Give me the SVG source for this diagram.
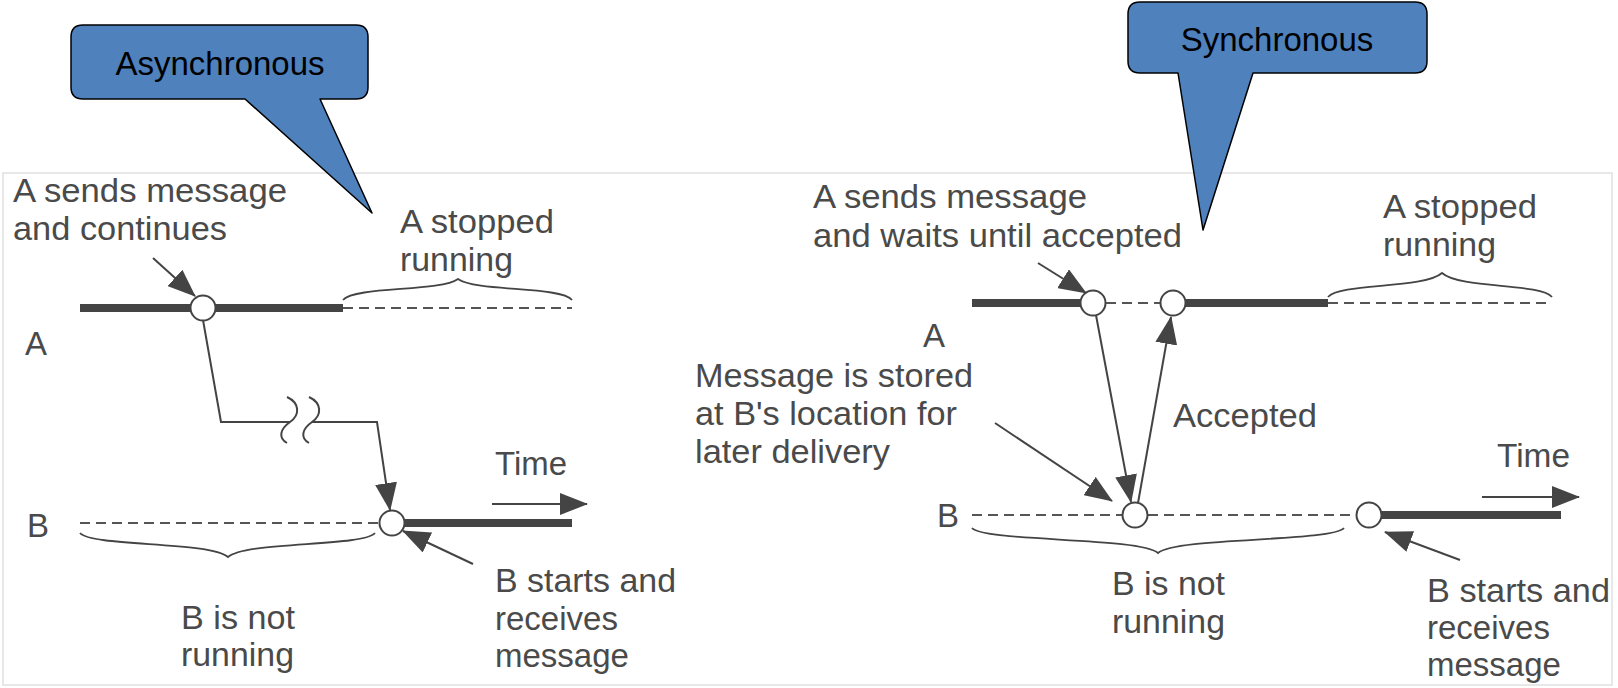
<svg xmlns="http://www.w3.org/2000/svg" width="1618" height="688" viewBox="0 0 1618 688">
<style>
.lbl{font-family:"Liberation Sans",Arial,Helvetica,sans-serif;font-size:33px;fill:#4a4a4a}
.cal{font-family:"Liberation Sans",Arial,Helvetica,sans-serif;font-size:33px;fill:#000;text-anchor:middle}
.thick{stroke:#444;stroke-width:8;fill:none}
.dash{stroke:#555;stroke-width:2;stroke-dasharray:10 6;fill:none}
.thin{stroke:#444;stroke-width:2;fill:none}
.brace{stroke:#444;stroke-width:1.8;fill:none}
.node{fill:#fff;stroke:#444;stroke-width:2}
.callout{fill:#4f81bd;stroke:#000;stroke-width:1.5;stroke-linejoin:round}
</style>
<defs>
<marker id="ah" viewBox="0 0 28 22" refX="27" refY="11" markerWidth="28" markerHeight="22" markerUnits="userSpaceOnUse" orient="auto">
<path d="M0,0 L28,11 L0,22 Z" fill="#444"/>
</marker>
</defs>
<rect x="0" y="0" width="1618" height="688" fill="#fff"/>
<rect x="3" y="173" width="1609" height="512" fill="none" stroke="#e0e0e0" stroke-width="1.5"/>

<g id="timelines">
<line class="thick" x1="80" y1="308" x2="343" y2="308"/>
<line class="dash" x1="343" y1="308" x2="572" y2="308"/>
<line class="dash" x1="80" y1="523" x2="380" y2="523"/>
<line class="thick" x1="404" y1="523" x2="572" y2="523"/>
<line class="thick" x1="972" y1="303" x2="1081" y2="303"/>
<line class="dash" x1="1106" y1="303" x2="1161" y2="303"/>
<line class="thick" x1="1185" y1="303" x2="1328" y2="303"/>
<line class="dash" x1="1328" y1="303" x2="1552" y2="303"/>
<line class="dash" x1="972" y1="515" x2="1357" y2="515"/>
<line class="thick" x1="1381" y1="515" x2="1561" y2="515"/>
</g>

<g id="braces">
<path class="brace" d="M343,300 C355,286 440,292 458,279 C476,292 561,286 572,300"/>
<path class="brace" d="M80,533 C92,547 210,541 228,557 C246,541 363,547 375,533"/>
<path class="brace" d="M1328,297 C1340,283 1424,289 1442,273 C1460,289 1540,283 1552,297"/>
<path class="brace" d="M972,528 C984,542 1140,537 1158,553 C1176,537 1332,542 1344,528"/>
</g>

<g id="connectors">
<line class="thin" x1="153" y1="258" x2="195" y2="296" marker-end="url(#ah)"/>
<polyline class="thin" points="203,320 221,422 290,422"/>
<path class="thin" d="M287,397 C300,403 300,415 290,422 C280,429 278,438 287,443"/>
<path class="thin" d="M309,397 C322,403 322,415 312,422 C302,429 300,438 309,443"/>
<polyline class="thin" points="312,422 377,422 390,510" marker-end="url(#ah)"/>
<line class="thin" x1="492" y1="504" x2="587" y2="504" marker-end="url(#ah)"/>
<line class="thin" x1="473" y1="564" x2="403" y2="531" marker-end="url(#ah)"/>
<line class="thin" x1="1038" y1="263" x2="1086" y2="293" marker-end="url(#ah)"/>
<line class="thin" x1="1096" y1="315" x2="1131" y2="502" marker-end="url(#ah)"/>
<line class="thin" x1="1138" y1="503" x2="1171" y2="317" marker-end="url(#ah)"/>
<line class="thin" x1="995" y1="423" x2="1112" y2="501" marker-end="url(#ah)"/>
<line class="thin" x1="1482" y1="497" x2="1579" y2="497" marker-end="url(#ah)"/>
<line class="thin" x1="1460" y1="560" x2="1385" y2="532" marker-end="url(#ah)"/>
</g>

<g id="nodes">
<circle id="a-send-async" class="node" cx="203" cy="308" r="12.5"/>
<circle id="b-recv-async" class="node" cx="392" cy="523" r="12.5"/>
<circle id="a-send-sync" class="node" cx="1093" cy="303" r="12.5"/>
<circle id="a-accept-sync" class="node" cx="1173" cy="303" r="12.5"/>
<circle id="b-store-sync" class="node" cx="1135" cy="515" r="12.5"/>
<circle id="b-recv-sync" class="node" cx="1369" cy="515" r="12.5"/>
</g>

<g id="labels-async">
<text class="lbl" x="13" y="202" textLength="274" lengthAdjust="spacingAndGlyphs">A sends message</text>
<text class="lbl" x="13" y="240" textLength="214" lengthAdjust="spacingAndGlyphs">and continues</text>
<text class="lbl" x="400" y="233" textLength="154" lengthAdjust="spacingAndGlyphs">A stopped</text>
<text class="lbl" x="400" y="271" textLength="113" lengthAdjust="spacingAndGlyphs">running</text>
<text class="lbl" x="25" y="355">A</text>
<text class="lbl" x="27" y="537">B</text>
<text class="lbl" x="495" y="475" textLength="72" lengthAdjust="spacingAndGlyphs">Time</text>
<text class="lbl" x="181" y="629" textLength="114" lengthAdjust="spacingAndGlyphs">B is not</text>
<text class="lbl" x="181" y="666" textLength="113" lengthAdjust="spacingAndGlyphs">running</text>
<text class="lbl" x="495" y="592" textLength="181" lengthAdjust="spacingAndGlyphs">B starts and</text>
<text class="lbl" x="495" y="630">receives</text>
<text class="lbl" x="495" y="667">message</text>
</g>

<g id="labels-sync">
<text class="lbl" x="813" y="208" textLength="274" lengthAdjust="spacingAndGlyphs">A sends message</text>
<text class="lbl" x="813" y="247" textLength="369" lengthAdjust="spacingAndGlyphs">and waits until accepted</text>
<text class="lbl" x="1383" y="218" textLength="154" lengthAdjust="spacingAndGlyphs">A stopped</text>
<text class="lbl" x="1383" y="256" textLength="113" lengthAdjust="spacingAndGlyphs">running</text>
<text class="lbl" x="923" y="347">A</text>
<text class="lbl" x="695" y="387" textLength="278" lengthAdjust="spacingAndGlyphs">Message is stored</text>
<text class="lbl" x="695" y="425" textLength="262" lengthAdjust="spacingAndGlyphs">at B's location for</text>
<text class="lbl" x="695" y="463" textLength="195" lengthAdjust="spacingAndGlyphs">later delivery</text>
<text class="lbl" x="1173" y="427" textLength="144" lengthAdjust="spacingAndGlyphs">Accepted</text>
<text class="lbl" x="1497" y="467" textLength="73" lengthAdjust="spacingAndGlyphs">Time</text>
<text class="lbl" x="937" y="527">B</text>
<text class="lbl" x="1112" y="595" textLength="113" lengthAdjust="spacingAndGlyphs">B is not</text>
<text class="lbl" x="1112" y="633" textLength="113" lengthAdjust="spacingAndGlyphs">running</text>
<text class="lbl" x="1427" y="602" textLength="183" lengthAdjust="spacingAndGlyphs">B starts and</text>
<text class="lbl" x="1427" y="639">receives</text>
<text class="lbl" x="1427" y="676">message</text>
</g>

<g id="callout-async">
<path class="callout" d="M83,25 H356 Q368,25 368,37 V87 Q368,99 356,99 H320 L372,213 L245,99 H83 Q71,99 71,87 V37 Q71,25 83,25 Z"/>
<text class="cal" x="220" y="75">Asynchronous</text>
</g>
<g id="callout-sync">
<path class="callout" d="M1140,2 H1415 Q1427,2 1427,14 V61 Q1427,73 1415,73 H1253 L1203,230 L1178,73 H1140 Q1128,73 1128,61 V14 Q1128,2 1140,2 Z"/>
<text class="cal" x="1277" y="51">Synchronous</text>
</g>
</svg>
